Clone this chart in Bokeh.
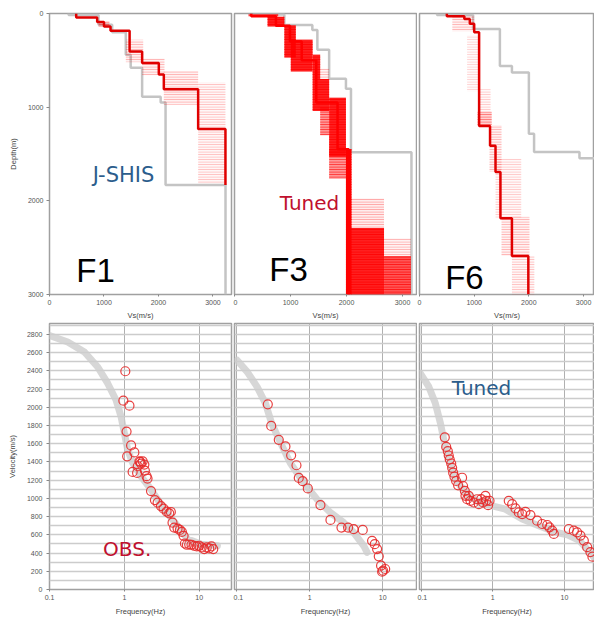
from bokeh.plotting import figure
from bokeh.layouts import gridplot
from bokeh.models import (Range1d, FixedTicker, SingleIntervalTicker, Label,
                          CustomJSTickFormatter, ColumnDataSource)
from bokeh.embed import file_html
from bokeh.resources import INLINE

# ---------------- DATA ----------------
DEPTH_MAX = 3000

# J-SHIS velocity models (Vs of each layer, depth of layer top)
F1_JSHIS_VS = [350, 900, 1150, 1400, 1490, 1700, 2040, 2130, 3230]
F1_JSHIS_TOP = [0, 15, 120, 200, 440, 580, 890, 950, 1830]
F3_JSHIS_VS = [350, 890, 1390, 1480, 1690, 1990, 2080, 3160]
F3_JSHIS_TOP = [0, 12, 123, 176, 387, 697, 803, 1480]
F6_JSHIS_VS = [320, 980, 1470, 1690, 2000, 2095, 2925, 3300]
F6_JSHIS_TOP = [0, 15, 165, 560, 630, 1285, 1478, 1545]

# Tuned (best) models
F1_TUNED_VS = [490, 875, 1000, 1120, 1470, 1700, 2006, 2098, 2728, 3229]
F1_TUNED_TOP = [0, 42, 90, 140, 183, 405, 528, 651, 810, 1232]
F1_TUNED_BASE = 1830
F3_TUNED_VS = [300, 740, 990, 1200, 1460, 1840, 2040]
F3_TUNED_TOP = [0, 30, 130, 300, 500, 950, 1450]
F3_TUNED_BASE = 3000
F6_TUNED_VS = [500, 820, 920, 1000, 1090, 1290, 1390, 1480, 1690, 1990]
F6_TUNED_TOP = [0, 30, 60, 110, 200, 1200, 1412, 1693, 2186, 2590]
F6_TUNED_BASE = 3000

# Ensemble of tuned models: Vs range, depth range, density
F1_BAND_VMIN = [900, 1400, 1700, 2098, 2728]
F1_BAND_VMAX = [1100, 1720, 2110, 2728, 3229]
F1_BAND_DTOP = [85, 280, 480, 615, 740]
F1_BAND_DBOT = [145, 520, 660, 975, 1815]
F1_BAND_DENS = [0.5, 0.3, 0.3, 0.3, 0.25]

F3_BAND_VMIN = [250, 590, 890, 1005, 1395, 1530, 1395, 1530, 1690, 1690, 1990, 2080, 2080, 2670, 2670]
F3_BAND_VMAX = [780, 890, 1095, 1395, 1530, 1690, 1690, 1690, 1990, 2077, 2090, 2670, 2670, 3150, 3150]
F3_BAND_DTOP = [10, 35, 125, 280, 440, 590, 700, 1000, 900, 1450, 1450, 1975, 2290, 2400, 2590]
F3_BAND_DBOT = [30, 140, 470, 620, 700, 700, 1040, 1300, 1530, 1765, 3000, 2290, 3000, 2590, 3000]
F3_BAND_DENS = [0.9, 0.95, 0.95, 0.95, 0.95, 0.3, 0.95, 0.7, 0.95, 0.7, 1.0, 0.35, 0.95, 0.3, 0.85]

F6_BAND_VMIN = [600, 870, 1070, 1060, 1280, 1390, 1500, 1690]
F6_BAND_VMAX = [1000, 1080, 1300, 1320, 1500, 1860, 2011, 2100]
F6_BAND_DTOP = [20, 230, 810, 1050, 1190, 1550, 2170, 2590]
F6_BAND_DBOT = [190, 830, 1050, 1190, 1690, 2180, 2590, 3000]
F6_BAND_DENS = [0.3, 0.18, 0.22, 0.5, 0.3, 0.22, 0.3, 0.25]

# Dispersion curves: theoretical (gray) and observed (circles)
F1_FIT_F = [0.1, 0.175, 0.293, 0.441, 0.60, 0.774, 0.903, 1.0, 1.108, 1.29, 1.67, 2.27, 3.41, 5.14, 6.99, 10.5, 17.5]
F1_FIT_V = [2789, 2716, 2607, 2443, 2262, 2080, 1898, 1716, 1534, 1389, 1243, 1098, 880, 698, 553, 498, 480]
F1_OBS_F = [1.03, 0.97, 1.17, 1.07, 1.23, 1.09, 1.36, 1.29, 1.48, 1.51, 1.59, 1.63, 1.67, 1.76, 1.85,
            1.88, 1.98, 2.04, 2.27, 2.56, 2.78, 3.08, 3.34, 3.67, 3.98, 4.18, 4.40, 4.64, 5.14, 5.52,
            5.87, 6.18, 6.44, 6.84, 7.35, 7.89, 8.56, 9.29, 10.0, 10.8, 11.67, 12.6, 13.6, 14.6, 15.4]
F1_OBS_V = [2396, 2073, 2018, 1734, 1582, 1462, 1505, 1291, 1280, 1353, 1407, 1400, 1382, 1407, 1371,
            1305, 1244, 1218, 1080, 982, 953, 916, 887, 855, 836, 851, 734, 680, 669, 654,
            633, 589, 505, 491, 494, 491, 480, 473, 480, 462, 444, 462, 451, 473, 444]

F3_FIT_F = [0.101, 0.139, 0.19, 0.247, 0.30, 0.40, 0.54, 0.83, 1.26, 1.92, 2.92, 4.01, 5.49, 6.1]
F3_FIT_V = [2516, 2389, 2225, 2043, 1825, 1607, 1389, 1171, 989, 844, 734, 625, 480, 407]
F3_OBS_F = [0.266, 0.296, 0.376, 0.464, 0.555, 0.657, 0.707, 0.80, 0.94, 1.40, 1.92, 2.72, 3.35,
            4.0, 5.32, 7.14, 7.77, 8.37, 8.82, 9.48, 10.1, 10.8, 9.8]
F3_OBS_V = [2033, 1796, 1643, 1571, 1473, 1364, 1225, 1189, 1109, 927, 764, 680, 680,
            662, 654, 534, 498, 444, 364, 262, 207, 225, 196]

F6_FIT_F = [0.098, 0.128, 0.158, 0.186, 0.207, 0.243, 0.301, 0.416, 0.638, 0.98, 1.50, 2.57, 4.38, 7.5, 11.0, 16.0, 22.0, 27.0]
F6_FIT_V = [2371, 2226, 2044, 1826, 1645, 1427, 1209, 1064, 955, 919, 882, 773, 701, 628, 600, 540, 420, 330]
F6_OBS_F = [0.214, 0.224, 0.236, 0.243, 0.251, 0.263, 0.271, 0.28, 0.292, 0.308, 0.328,
            0.373, 0.385, 0.407, 0.416, 0.438, 0.463, 0.488, 0.543, 0.604, 0.638,
            0.688, 0.733, 0.79, 0.807, 0.86, 0.90,
            1.67, 1.86, 2.07, 2.30, 2.57, 2.85, 3.35, 4.15, 4.88, 5.74,
            6.17, 6.74, 7.1, 11.5, 13.5, 15.0, 16.7, 18.6, 20.7, 23.0, 24.5]
F6_OBS_V = [1670, 1565, 1518, 1471, 1427, 1383, 1336, 1282, 1238, 1191, 1144,
            1227, 1136, 1082, 1028, 991, 1028, 973, 955, 991, 937,
            991, 955, 1028, 973, 926, 973,
            973, 937, 890, 846, 828, 853, 817, 755, 719, 708,
            683, 646, 610, 664, 646, 628, 592, 537, 465, 410, 360]

DEPTH_TICKS = [0, 1000, 2000, 3000]
VS_TICKS = [0, 1000, 2000, 3000]
FREQ_TICKS = [0.1, 1, 10]

# ---------------- STYLE / LAYOUT ----------------
COL_W = [233, 184, 177]
COL_BL = [49, 1, 2]
COL_BR = [2, 1, 0]
TOP_H, TOP_BT, TOP_BB = 322, 13, 25
BOT_H, BOT_BT, BOT_BB = 296, 1, 27

RED = "#ff0000"
BEST_RED = "#e00000"
GRAY = "#c4c4c4"
BLUE_TXT = "#2b5d8c"
RED_TXT = "#c0102e"
FONT = "Liberation Sans"


def step_xy(vs, tops, base):
    bottoms = tops[1:] + [base]
    xs, ys = [], []
    for v, t, b in zip(vs, tops, bottoms):
        xs += [v, v]
        ys += [t, b]
    return xs, ys


def style_axis(ax, label, label_standoff):
    ax.axis_label = label
    ax.axis_label_text_font = FONT
    ax.axis_label_text_font_size = "7.5px"
    ax.axis_label_text_font_style = "normal"
    ax.axis_label_text_color = "#444444"
    ax.axis_label_standoff = label_standoff
    ax.major_label_text_font = FONT
    ax.major_label_text_font_size = "7px"
    ax.major_label_text_color = "#555555"
    ax.major_label_standoff = 3
    ax.major_tick_in = 0
    ax.major_tick_out = 2
    ax.major_tick_line_color = "#888888"
    ax.minor_tick_line_color = None
    ax.axis_line_color = None


def make_fig(col, h, bt, bb, xr, yr, xtype="linear"):
    p = figure(width=COL_W[col], height=h, x_range=xr, y_range=yr, x_axis_type=xtype,
               output_backend="svg", toolbar_location=None, title=None,
               min_border_left=COL_BL[col], min_border_right=COL_BR[col],
               min_border_top=bt, min_border_bottom=bb,
               y_axis_location="left" if col == 0 else None)
    p.outline_line_color = "#a0a0a0"
    p.outline_line_width = 1.5
    p.background_fill_color = "white"
    p.border_fill_color = "white"
    return p


def profile_panel(col, xmax, jvs, jtop, tvs, ttop, tbase, bvmin, bvmax, bdtop, bdbot, bdens,
                  best_color):
    p = make_fig(col, TOP_H, TOP_BT, TOP_BB, Range1d(0, xmax), Range1d(DEPTH_MAX, 0))
    p.grid.visible = False
    style_axis(p.xaxis[0], "Vs(m/s)", 3)
    p.xaxis.ticker = FixedTicker(ticks=VS_TICKS)
    if col == 0:
        style_axis(p.yaxis[0], "Depth(m)", 7)
        p.yaxis.ticker = FixedTicker(ticks=DEPTH_TICKS)
        p.yaxis.major_tick_out = 3
    jx, jy = step_xy(jvs, jtop, DEPTH_MAX)
    p.line(jx, jy, color=GRAY, line_width=2.5)
    src = ColumnDataSource(dict(l=bvmin, r=bvmax, t=bdtop, b=bdbot,
                                fa=[d ** 2.5 for d in bdens], ha=bdens))
    p.quad(left="l", right="r", top="t", bottom="b", source=src,
           fill_color=RED, fill_alpha="fa", line_color=None,
           hatch_pattern="horizontal_line", hatch_color=RED, hatch_alpha="ha",
           hatch_scale=2.5, hatch_weight=1)
    tx, ty = step_xy(tvs, ttop, tbase)
    p.line(tx, ty, color=best_color, line_width=2.5)
    return p


def disp_panel(col, xr, fit_f, fit_v, obs_f, obs_v):
    p = make_fig(col, BOT_H, BOT_BT, BOT_BB, xr, Range1d(0, 2920), xtype="log")
    style_axis(p.xaxis[0], "Frequency(Hz)", 4)
    p.xaxis.ticker = FixedTicker(ticks=FREQ_TICKS)
    p.xaxis.formatter = CustomJSTickFormatter(code="return String(tick);")
    p.xgrid.ticker = FixedTicker(ticks=FREQ_TICKS)
    p.xgrid.grid_line_color = "#b0b0b0"
    p.xgrid.grid_line_width = 1
    p.ygrid.ticker = SingleIntervalTicker(interval=100)
    p.ygrid.grid_line_color = "#cccccc"
    p.ygrid.grid_line_width = 1.3
    if col == 0:
        style_axis(p.yaxis[0], "Velocity(m/s)", 7)
        p.yaxis.ticker = SingleIntervalTicker(interval=200)
        p.yaxis.major_tick_out = 3
    p.line(fit_f, fit_v, color="#cdcdcd", line_alpha=0.8, line_width=7,
           line_cap="round", line_join="round")
    p.scatter(obs_f, obs_v, marker="circle", size=9, fill_color=None,
              line_color="#e52a2a", line_alpha=0.9, line_width=1.2)
    return p


def add_label(p, x, y, text, size, color, font="DejaVu Sans"):
    p.add_layout(Label(x=x, y=y, text=text, text_font=font, text_font_size=size,
                       text_color=color, text_align="center", text_baseline="middle"))


p1 = profile_panel(0, 3340, F1_JSHIS_VS, F1_JSHIS_TOP, F1_TUNED_VS, F1_TUNED_TOP, F1_TUNED_BASE,
                   F1_BAND_VMIN, F1_BAND_VMAX, F1_BAND_DTOP, F1_BAND_DBOT, F1_BAND_DENS, BEST_RED)
p2 = profile_panel(1, 3250, F3_JSHIS_VS, F3_JSHIS_TOP, F3_TUNED_VS, F3_TUNED_TOP, F3_TUNED_BASE,
                   F3_BAND_VMIN, F3_BAND_VMAX, F3_BAND_DTOP, F3_BAND_DBOT, F3_BAND_DENS, RED)
p3 = profile_panel(2, 3200, F6_JSHIS_VS, F6_JSHIS_TOP, F6_TUNED_VS, F6_TUNED_TOP, F6_TUNED_BASE,
                   F6_BAND_VMIN, F6_BAND_VMAX, F6_BAND_DTOP, F6_BAND_DBOT, F6_BAND_DENS, BEST_RED)

add_label(p1, 1358, 1727, "J-SHIS", "21px", BLUE_TXT)
add_label(p1, 844, 2741, "F1", "33px", "black", FONT)
add_label(p2, 1339, 2028, "Tuned", "20px", RED_TXT)
add_label(p2, 964, 2736, "F3", "33px", "black", FONT)
add_label(p3, 822, 2820, "F6", "33px", "black", FONT)

p4 = disp_panel(0, Range1d(0.1, 27), F1_FIT_F, F1_FIT_V, F1_OBS_F, F1_OBS_V)
p5 = disp_panel(1, Range1d(0.093, 29), F3_FIT_F, F3_FIT_V, F3_OBS_F, F3_OBS_V)
p6 = disp_panel(2, Range1d(0.095, 26.2), F6_FIT_F, F6_FIT_V, F6_OBS_F, F6_OBS_V)

add_label(p4, 1.09, 447, "OBS.", "20px", RED_TXT)
add_label(p6, 0.695, 2211, "Tuned", "20px", BLUE_TXT)

layout = gridplot([[p1, p2, p3], [p4, p5, p6]], toolbar_location=None)

open("out.html", "w").write(file_html(layout, INLINE))
